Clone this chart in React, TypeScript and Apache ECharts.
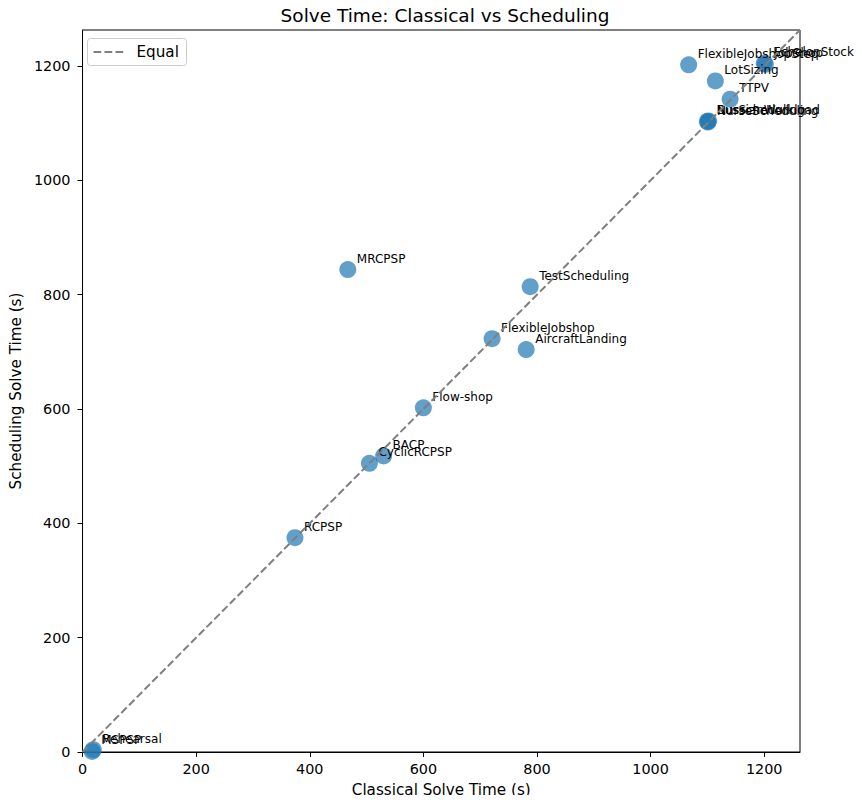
import React, { useEffect, useRef } from "react";
import * as echarts from "echarts";

const names = [
  "FlexibleJobshopStep", "EchelonStock2", "JobShop", "LotSizing", "TTPV",
  "BusScheduling", "NurseScheduling", "RussianWorkload", "MRCPSP", "TestScheduling",
  "FlexibleJobshop", "AircraftLanding", "Flow-shop", "BACP", "CyclicRCPSP",
  "RCPSP", "Rehearsal", "MSPSP",
];
const classical = [1067, 1200, 1202, 1114, 1140, 1100, 1101, 1102, 467, 788, 721, 781, 600, 530, 505, 374, 19, 17];
const scheduling = [1202, 1205, 1203, 1174, 1142, 1103, 1102, 1104, 844, 814, 723, 704, 602, 518, 505, 375, 4, 1];
const axisMax = 1263;
const ticks = [0, 200, 400, 600, 800, 1000, 1200];
const legendLabel = "Equal";

const FONT = "DejaVu Sans";

export default function App() {
  const ref = useRef<HTMLDivElement>(null);
  useEffect(() => {
    if (!ref.current) return;
    const chart = echarts.init(ref.current, null, { renderer: "svg" });
    const pts = names.map((n, i) => ({ name: n, value: [classical[i], scheduling[i]] }));
    const axisCommon = {
      type: "value" as const,
      min: 0,
      max: axisMax,
      interval: 200,
      splitLine: { show: false },
      axisLine: { show: true, lineStyle: { color: "#000", width: 1 } },
      axisTick: { show: true, inside: false, length: 5, lineStyle: { color: "#000" } },
      nameLocation: "middle" as const,
      nameTextStyle: { color: "#000", fontSize: 15.2, fontFamily: FONT },
    };
    const labelCommon = {
      color: "#000",
      fontSize: 14.4,
      fontFamily: FONT,
      showMaxLabel: false,
      formatter: (v: number) => (ticks.includes(v) ? String(v) : ""),
    };
    chart.setOption({
      animation: false,
      backgroundColor: "#fff",
      title: {
        text: "Solve Time: Classical vs Scheduling",
        left: 440,
        top: 1,
        textAlign: "center",
        textStyle: { fontSize: 18.5, fontWeight: "normal", color: "#000", fontFamily: FONT },
      },
      grid: {
        left: 80,
        right: 62,
        top: 30,
        bottom: 51,
        show: true,
        borderColor: "#000",
        borderWidth: 1,
        backgroundColor: "transparent",
      },
      graphic: [
        {
          type: "group",
          left: 87,
          top: 38,
          z: 100,
          children: [
            {
              type: "rect",
              shape: { x: 0, y: 0, width: 99, height: 27, r: 3 },
              style: { fill: "rgba(255,255,255,0.8)", stroke: "#ccc", lineWidth: 1 },
            },
            {
              type: "line",
              shape: { x1: 6, y1: 13.5, x2: 38, y2: 13.5 },
              style: { stroke: "#7f7f7f", lineWidth: 2, lineDash: [7.7, 3.3] },
            },
            {
              type: "text",
              x: 49,
              y: 13.5,
              style: {
                text: legendLabel,
                fontSize: 15.2,
                fontFamily: FONT,
                fill: "#000",
                verticalAlign: "middle",
              },
            },
          ],
        },
      ],
      xAxis: {
        ...axisCommon,
        name: "Classical Solve Time (s)",
        nameGap: 30,
        axisLabel: { ...labelCommon, margin: 10 },
      },
      yAxis: {
        ...axisCommon,
        name: "Scheduling Solve Time (s)",
        nameGap: 56,
        nameRotate: 90,
        axisLabel: { ...labelCommon, margin: 12 },
      },
      series: [
        {
          name: "Equal",
          type: "line",
          data: [[0, 0], [axisMax, axisMax]],
          symbol: "none",
          lineStyle: { color: "#7f7f7f", width: 2, type: [7.7, 3.3] },
          itemStyle: { color: "#7f7f7f" },
          z: 3,
          silent: true,
        },
        {
          name: "points",
          type: "scatter",
          data: pts,
          symbolSize: 17,
          itemStyle: { color: "rgba(31,119,180,0.7)", opacity: 1 },
          z: 2,
          label: {
            show: true,
            position: [17.5, -2.5],
            formatter: "{b}",
            align: "left",
            verticalAlign: "middle",
            fontSize: 12,
            fontFamily: FONT,
            color: "#000",
            opacity: 1,
          },
          labelLayout: { hideOverlap: false },
        },
      ],
    });
    return () => chart.dispose();
  }, []);
  return <div ref={ref} style={{ width: 862, height: 803, margin: -8 }} />;
}
